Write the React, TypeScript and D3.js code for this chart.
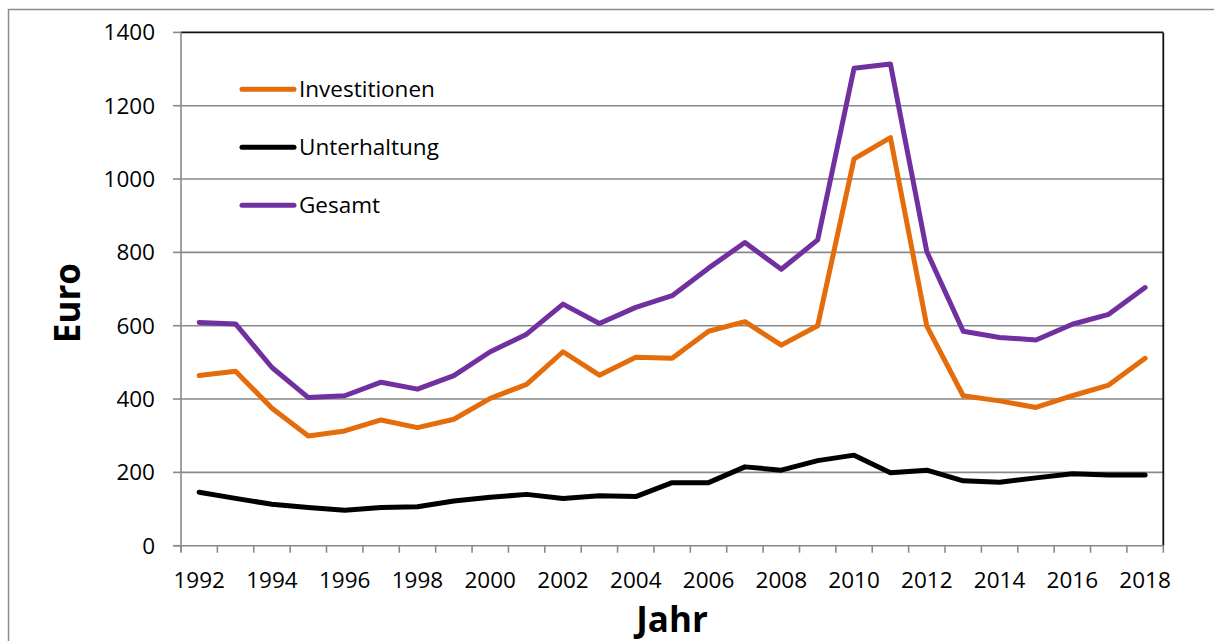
import React from "react";
import * as d3 from "d3";

const years = d3.range(1992, 2019).map(String);
const investitionen = [464, 476, 375, 299, 313, 343, 322, 345, 402, 440, 529, 465, 514, 511, 585, 611, 547, 600, 1055, 1113, 599, 409, 395, 377, 409, 438, 511];
const unterhaltung = [146, 129, 113, 104, 97, 104, 106, 122, 132, 140, 129, 136, 134, 172, 172, 215, 206, 232, 247, 199, 206, 177, 173, 185, 196, 193, 193];
const gesamt = [609, 605, 486, 404, 409, 446, 427, 464, 529, 577, 659, 606, 650, 682, 757, 827, 754, 834, 1302, 1314, 802, 585, 568, 561, 604, 631, 704];
const yTicks = [0, 200, 400, 600, 800, 1000, 1200, 1400];

const series = [
  { name: "Investitionen", values: investitionen, color: "#E46C0A" },
  { name: "Unterhaltung", values: unterhaltung, color: "#000000" },
  { name: "Gesamt", values: gesamt, color: "#7030A0" },
];

const W = 1214;
const H = 641;
const left = 181;
const right = 1163.3;
const top = 32.4;
const bottom = 545.7;
const font = "'Open Sans', sans-serif";

export default function App() {
  const x = d3.scaleBand().domain(years).range([left, right]).padding(0);
  const y = d3.scaleLinear().domain([0, 1400]).range([bottom, top]);
  const line = d3
    .line<number>()
    .x((_, i) => x(years[i])! + x.bandwidth() / 2)
    .y((d) => y(d));

  // tick positions at band boundaries
  const bounds = years.map((yr) => x(yr)!).concat([right]);

  return (
    <svg
      width={W}
      height={H}
      style={{ position: "absolute", left: 0, top: 0, background: "#fff" }}
      fontFamily={font}
    >
      <rect x={8.5} y={9.5} width={1220} height={700} fill="none" stroke="#8c8c8c" strokeWidth={1.5} />

      {/* gridlines */}
      {yTicks.slice(1, -1).map((t) => (
        <line key={t} x1={left} x2={right} y1={y(t)} y2={y(t)} stroke="#898989" strokeWidth={1.6} />
      ))}
      {/* plot border top & right */}
      <line x1={left} x2={right} y1={top} y2={top} stroke="#111" strokeWidth={1.8} />
      <line x1={right} x2={right} y1={top} y2={bottom} stroke="#111" strokeWidth={1.8} />

      {/* y axis */}
      <line x1={left} x2={left} y1={top} y2={bottom + 6} stroke="#898989" strokeWidth={1.6} />
      {yTicks.map((t) => (
        <g key={t}>
          <line x1={left - 8} x2={left} y1={y(t)} y2={y(t)} stroke="#898989" strokeWidth={1.6} />
          <text x={155} y={y(t)} dy="0.35em" textAnchor="end" fontSize={22.5} fill="#000">
            {t}
          </text>
        </g>
      ))}

      {/* x axis */}
      <line x1={left - 8} x2={right} y1={bottom} y2={bottom} stroke="#898989" strokeWidth={1.6} />
      {bounds.map((b, i) => (
        <line key={i} x1={b} x2={b} y1={bottom} y2={bottom + 7} stroke="#898989" strokeWidth={1.6} />
      ))}
      {years.map((yr, i) =>
        i % 2 === 0 ? (
          <text key={yr} x={x(yr)! + x.bandwidth() / 2} y={588} textAnchor="middle" fontSize={22.5} fill="#000">
            {yr}
          </text>
        ) : null
      )}

      {/* axis titles */}
      <text x={672} y={632} textAnchor="middle" fontSize={35} fontWeight="bold" fill="#000">
        Jahr
      </text>
      <text
        transform={`translate(80, ${(top + bottom) / 2 + 14}) rotate(-90)`}
        textAnchor="middle"
        fontSize={35}
        fontWeight="bold"
        fill="#000"
      >
        Euro
      </text>

      {/* series lines */}
      {series.map((s) => (
        <path
          key={s.name}
          d={line(s.values)!}
          fill="none"
          stroke={s.color}
          strokeWidth={5}
          strokeLinecap="round"
          strokeLinejoin="round"
        />
      ))}

      {/* legend */}
      {series.map((s, i) => (
        <g key={s.name} transform={`translate(0, ${89.3 + i * 58})`}>
          <line x1={242} x2={294} y1={0} y2={0} stroke={s.color} strokeWidth={5} strokeLinecap="round" />
          <text x={299} y={0} dy="0.35em" fontSize={22.5} fill="#000">
            {s.name}
          </text>
        </g>
      ))}
    </svg>
  );
}
